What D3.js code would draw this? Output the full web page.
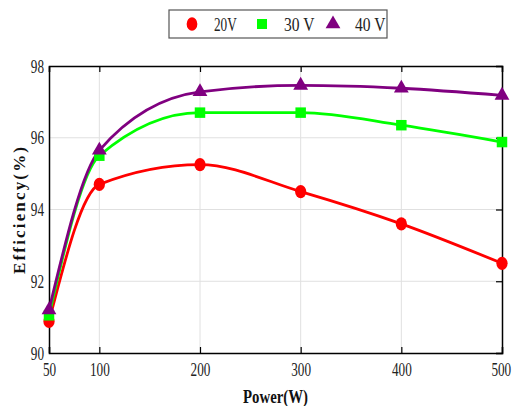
<!DOCTYPE html>
<html><head><meta charset="utf-8">
<script src="https://cdn.jsdelivr.net/npm/d3@7"></script>
<style>body{margin:0;background:#fff}svg{display:block}</style>
</head><body>
<svg id="c" width="513" height="406"></svg>
<script>
const powers = [50, 100, 200, 300, 400, 500];
const v20 = [90.88, 94.7, 95.25, 94.5, 93.6, 92.5];
const v30 = [91.05, 95.5, 96.7, 96.7, 96.35, 95.88];
const v40 = [91.2, 95.65, 97.28, 97.46, 97.38, 97.18];
const seriesNames = ["20V", "30 V", "40 V"];
const seriesColors = ["#ff0000", "#00ff00", "#800080"];
const seriesShapes = [d3.symbolCircle, d3.symbolSquare, d3.symbolTriangle];
const xTicks = [50, 100, 200, 300, 400, 500];
const yTicks = [90, 92, 94, 96, 98];

const svg = d3.select("#c");
const L = 49, R = 502, T = 66, B = 353;
const x = d3.scaleLinear().domain([50, 500]).range([L, R]);
const y = d3.scaleLinear().domain([90, 98]).range([B, T]);
const tickFont = "'Liberation Serif',serif";
const charW = 6.6;

// grid
const g = svg.append("g");
g.selectAll(".gx").data(xTicks.slice(1, -1)).enter().append("line")
  .attr("x1", d => x(d)).attr("x2", d => x(d)).attr("y1", T).attr("y2", B)
  .attr("stroke", "#e0e0e0").attr("stroke-width", 1);
g.selectAll(".gy").data(yTicks.slice(1, -1)).enter().append("line")
  .attr("x1", L).attr("x2", R).attr("y1", d => y(d)).attr("y2", d => y(d))
  .attr("stroke", "#e0e0e0").attr("stroke-width", 1);

// axes
const ax = svg.append("g").attr("transform", `translate(0,${B})`)
  .call(d3.axisBottom(x).tickValues(xTicks).tickSize(-6).tickPadding(10).tickFormat(d3.format("d")));
const axTop = svg.append("g").attr("transform", `translate(0,${T})`)
  .call(d3.axisTop(x).tickValues(xTicks).tickSize(-6).tickFormat(""));
const ay = svg.append("g").attr("transform", `translate(${L},0)`)
  .call(d3.axisLeft(y).tickValues(yTicks).tickSize(0).tickPadding(5).tickFormat(d3.format("d")));
const ayR = svg.append("g").attr("transform", `translate(${R},0)`)
  .call(d3.axisRight(y).tickValues(yTicks).tickSize(-6).tickFormat(""));
[ax, axTop, ay, ayR].forEach(a => {
  a.select(".domain").attr("stroke", "#000").attr("stroke-width", 1.5);
  a.selectAll(".tick line").attr("stroke", "#000").attr("stroke-width", 1.2);
  a.selectAll("text").attr("font-family", tickFont).attr("font-size", 19).attr("fill", "#222")
    .attr("lengthAdjust", "spacingAndGlyphs")
    .attr("textLength", function () { return this.textContent.length * charW; });
});
ax.selectAll(".tick text").filter(d => d === 500).attr("dx", -1.2);

// lines
const allSeries = [v20, v30, v40];
const line = d3.line().x((d, i) => x(powers[i])).y(d => y(d)).curve(d3.curveMonotoneX);
allSeries.forEach((vals, s) => {
  svg.append("path").datum(vals).attr("d", line).attr("fill", "none")
    .attr("stroke", seriesColors[s]).attr("stroke-width", 2.8);
});
allSeries.forEach((vals, s) => {
  svg.selectAll(null).data(vals).enter().append("path")
    .attr("d", d3.symbol().type(seriesShapes[s]).size(s === 2 ? 95 : 110))
    .attr("transform", (d, i) => `translate(${x(powers[i])},${y(d)})` + (s === 0 ? " scale(0.95,1.12)" : ""))
    .attr("fill", seriesColors[s]);
});

// legend
svg.append("rect").attr("x", 169).attr("y", 10).attr("width", 218).attr("height", 28)
  .attr("fill", "#fff").attr("stroke", "#555").attr("stroke-width", 1.2);
const legX = [192, 262, 333];
seriesNames.forEach((n, s) => {
  svg.append("path").attr("d", d3.symbol().type(seriesShapes[s]).size(s === 2 ? 95 : 100))
    .attr("transform", `translate(${legX[s]},24)` + (s === 0 ? " scale(0.95,1.2)" : ""))
    .attr("fill", seriesColors[s]);
  svg.append("text").attr("x", legX[s] + 22).attr("y", 30.5).text(n)
    .attr("font-family", tickFont).attr("font-size", 19).attr("fill", "#222")
    .attr("lengthAdjust", "spacingAndGlyphs").attr("textLength", n.length * 7.6);
});

// titles
svg.append("text").attr("x", 243).attr("y", 403)
  .attr("font-family", "'Liberation Serif',serif").attr("font-weight", "bold").attr("font-size", 18)
  .attr("lengthAdjust", "spacingAndGlyphs").attr("textLength", 65)
  .attr("fill", "#111").text("Power(W)");
svg.append("text").attr("transform", "translate(25,274) rotate(-90)")
  .attr("font-family", "'Liberation Serif',serif").attr("font-weight", "bold").attr("font-size", 17)
  .attr("lengthAdjust", "spacing").attr("textLength", 127)
  .attr("fill", "#111").text("Efficiency(%)");
</script>
</body></html>
